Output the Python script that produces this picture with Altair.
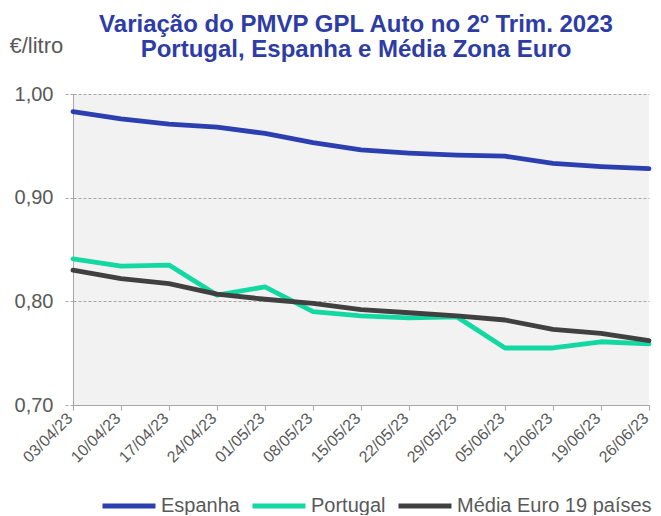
import altair as alt
import pandas as pd

dates = ["03/04/23", "10/04/23", "17/04/23", "24/04/23", "01/05/23", "08/05/23",
         "15/05/23", "22/05/23", "29/05/23", "05/06/23", "12/06/23", "19/06/23", "26/06/23"]
espanha = [0.983, 0.976, 0.971, 0.968, 0.962, 0.953, 0.946, 0.943, 0.941, 0.940, 0.933, 0.930, 0.928]
portugal = [0.841, 0.834, 0.835, 0.806, 0.814, 0.790, 0.786, 0.784, 0.785, 0.755, 0.755, 0.761, 0.759]
euro = [0.830, 0.822, 0.817, 0.807, 0.802, 0.798, 0.792, 0.789, 0.786, 0.782, 0.773, 0.769, 0.762]

series_names = ["Espanha", "Portugal", "Média Euro 19 países"]
series_colors = ["#2B3FB0", "#14D8A2", "#404040"]

rows = []
for name, vals in zip(series_names, [espanha, portugal, euro]):
    for d, v in zip(dates, vals):
        rows.append({"data": d, "serie": name, "valor": v})
df = pd.DataFrame(rows)

grey = "#595959"

chart = alt.Chart(df).mark_line(strokeWidth=4.8, strokeCap="round", strokeJoin="round").encode(
    x=alt.X("data:O", sort=dates,
            scale=alt.Scale(type="point", padding=0),
            axis=alt.Axis(title=None, labelAngle=-45, labelColor=grey, labelFontSize=16,
                          labelFont="Liberation Sans", labelPadding=9,
                          labelBaseline="alphabetic",
                          tickColor="#A6A6A6", tickSize=5, domainColor="#A6A6A6",
                          grid=False)),
    y=alt.Y("valor:Q",
            scale=alt.Scale(domain=[0.70, 1.00], nice=False, zero=False),
            axis=alt.Axis(title="€/litro", titleAngle=0, titleX=-64, titleY=-49,
                          titleAlign="left", titleBaseline="middle",
                          titleFont="Liberation Sans", titleFontSize=22,
                          titleFontWeight="normal", titleColor=grey,
                          values=[0.70, 0.80, 0.90, 1.00],
                          labelExpr="replace(format(datum.value, '.2f'), '.', ',')",
                          labelColor=grey, labelFontSize=20, labelFont="Liberation Sans",
                          labelPadding=12, tickSize=8, tickColor="#A6A6A6",
                          tickDash=[3, 2],
                          domainColor="#A6A6A6",
                          grid=True, gridColor="#A6A6A6", gridDash=[3, 2], gridWidth=1)),
    color=alt.Color("serie:N", sort=series_names,
                    scale=alt.Scale(domain=series_names, range=series_colors),
                    legend=alt.Legend(title=None, orient="none", direction="horizontal",
                                      legendX=27, legendY=383,
                                      symbolType="stroke", symbolSize=2809,
                                      symbolStrokeWidth=5, labelFontSize=20,
                                      labelFont="Liberation Sans", labelColor=grey,
                                      labelLimit=0,
                                      labelOffset=3, columnPadding=2)),
).properties(
    width=576,
    height=311,
    title=alt.TitleParams(
        text=["Variação do PMVP GPL Auto no 2º Trim. 2023",
              "Portugal, Espanha e Média Zona Euro"],
        anchor="middle", font="Liberation Sans", fontSize=24, fontWeight="bold",
        color="#2E3CA6", lineHeight=25, offset=0, dy=28, dx=-5),
    autosize=alt.AutoSizeParams(type="none"),
    padding={"left": 65, "top": 86, "right": 4, "bottom": 110},
).configure_view(
    fill="#F2F2F2", stroke=None
)

chart.save("out.html", embed_options={"renderer": "svg", "actions": False})
